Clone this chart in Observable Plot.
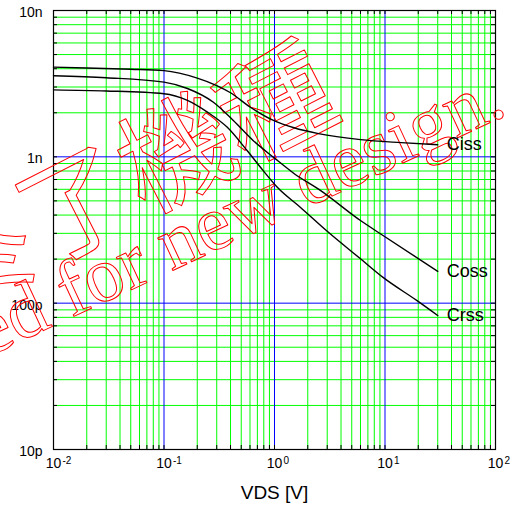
<!DOCTYPE html>
<html>
<head>
<meta charset="utf-8">
<script src="https://cdn.jsdelivr.net/npm/d3@7"></script>
<script src="https://cdn.jsdelivr.net/npm/@observablehq/plot@0.6"></script>
<style>
  html, body { margin: 0; padding: 0; background: #fff; }
  #chart svg { display: block; }
</style>
</head>
<body>
<div id="chart"></div>
<script>
// ---- data ----
const cissV = [0.01, 0.02, 0.05, 0.1, 0.2, 0.3, 0.4, 0.6, 1, 1.5, 2.5, 6, 14, 30];
const cissC = [4.10e-9, 4.05e-9, 3.97e-9, 3.88e-9, 3.45e-9, 3.07e-9, 2.74e-9, 2.19e-9, 1.76e-9, 1.58e-9, 1.44e-9, 1.31e-9, 1.25e-9, 1.21e-9];

const cossV = [0.01, 0.03, 0.1, 0.163, 0.28, 0.424, 0.643, 1, 1.5, 2.6, 6, 9.6, 30];
const cossC = [3.58e-9, 3.47e-9, 3.24e-9, 2.93e-9, 2.36e-9, 1.77e-9, 1.29e-9, 0.98e-9, 0.77e-9, 0.59e-9, 0.367e-9, 0.29e-9, 0.165e-9];

const crssV = [0.01, 0.03, 0.1, 0.163, 0.247, 0.374, 0.567, 0.79, 1.06, 1.71, 3.0, 6.0, 9.6, 19.5, 30];
const crssC = [2.87e-9, 2.82e-9, 2.70e-9, 2.43e-9, 2.02e-9, 1.59e-9, 1.10e-9, 0.805e-9, 0.62e-9, 0.453e-9, 0.31e-9, 0.201e-9, 0.150e-9, 0.104e-9, 0.0823e-9];

const seriesNames = ["Ciss", "Coss", "Crss"];

const xDecades = [0.01, 0.1, 1, 10, 100];
const xBaseLabels = ["10", "10", "10", "10", "10"];
const xExpLabels = ["-2", "-1", "0", "1", "2"];
const yDecades = [1e-8, 1e-9, 1e-10, 1e-11];
const yLabels = ["10n", "1n", "100p", "10p"];
const mantissas = [2, 3, 4, 5, 6, 7, 8, 9];

const xTitle = "VDS [V]";
const watermarkJa = "ライフ終了機種";
const watermarkEn = "Not recommended for new design.";

// ---- derived tables ----
const rows = [];
[[cissV, cissC], [cossV, cossC], [crssV, crssC]].forEach(([vs, cs], i) => {
  vs.forEach((v, j) => rows.push({series: seriesNames[i], v, c: cs[j]}));
});
const ends = seriesNames.map(s => rows.filter(r => r.series === s).at(-1));
const xTicks = xDecades.map((d, i) => ({d, base: xBaseLabels[i], exp: xExpLabels[i]}));
const yTicks = yDecades.map((d, i) => ({d, label: yLabels[i]}));

const xMinor = xDecades.slice(0, -1).flatMap(d => mantissas.map(m => m * d));
const yMinor = yDecades.slice(1).flatMap(d => mantissas.map(m => m * d));
const xAll = xMinor.concat(xDecades);
const yAll = yMinor.concat(yDecades);

const W = 516, H = 512;
const mT = 10, mB = 63, mL = 53, mR = 21;
const innerH = H - mT - mB, innerW = W - mL - mR;
const tick = 4;

const plot = Plot.plot({
  width: W,
  height: H,
  marginTop: mT,
  marginBottom: mB,
  marginLeft: mL,
  marginRight: mR,
  style: {fontFamily: "'Liberation Sans', Arial, sans-serif", background: "#fff"},
  x: {type: "log", domain: [0.01, 100], axis: null},
  y: {type: "log", domain: [1e-11, 1e-8], axis: null},
  marks: [
    // green minor grid
    Plot.ruleX(xMinor, {stroke: "#00ff00", strokeWidth: 1}),
    Plot.ruleY(yMinor, {stroke: "#00ff00", strokeWidth: 1}),
    // blue decade grid
    Plot.ruleX(xDecades.slice(1, -1), {stroke: "#0000ff", strokeWidth: 1}),
    Plot.ruleY(yDecades.slice(1, -1), {stroke: "#0000ff", strokeWidth: 1}),
    // inward ticks
    Plot.tickX(xAll, {x: d => d, insetTop: innerH - tick, stroke: "#000"}),
    Plot.tickX(xAll, {x: d => d, insetBottom: innerH - tick, stroke: "#000"}),
    Plot.tickY(yAll, {y: d => d, insetRight: innerW - tick, stroke: "#000"}),
    Plot.tickY(yAll, {y: d => d, insetLeft: innerW - tick, stroke: "#000"}),
    Plot.frame({stroke: "#000", strokeWidth: 1.2}),
    // axis labels
    Plot.text(xTicks, {
      x: "d", text: "base", frameAnchor: "bottom",
      dy: 18, fontSize: 14, fill: "#000"
    }),
    Plot.text(xTicks, {
      x: "d", text: "exp", frameAnchor: "bottom",
      dy: 14, dx: 9, textAnchor: "start", fontSize: 10, fill: "#000"
    }),
    Plot.text(yTicks, {
      y: "d", text: "label", frameAnchor: "left",
      dx: -11, dy: 2, textAnchor: "end", fontSize: 14, fill: "#000"
    }),
    Plot.text([xTitle], {
      frameAnchor: "bottom", dy: 49, fontSize: 19, fill: "#000"
    }),
    // watermark
    Plot.text([watermarkJa], {
      frameAnchor: "top-right", dx: -188, dy: 32, rotate: -27,
      textAnchor: "end", fontSize: 112, fill: "none", stroke: "#ff0000",
      strokeWidth: 1, fontFamily: "'Noto Sans CJK JP', sans-serif"
    }),
    Plot.text([watermarkEn], {
      frameAnchor: "top-right", dx: -10, dy: 53, rotate: -25,
      textAnchor: "end", fontSize: 78, fill: "none", stroke: "#ff0000",
      strokeWidth: 1, fontFamily: "'Liberation Serif', 'Times New Roman', serif"
    }),
    // curves
    Plot.line(rows, {x: "v", y: "c", z: "series", stroke: "#000", strokeWidth: 1.4, curve: "monotone-x"}),
    Plot.text(ends, {x: "v", y: "c", text: "series", dx: 9, textAnchor: "start", fontSize: 18, fill: "#000"})
  ]
});
document.getElementById("chart").appendChild(plot);
</script>
</body>
</html>
